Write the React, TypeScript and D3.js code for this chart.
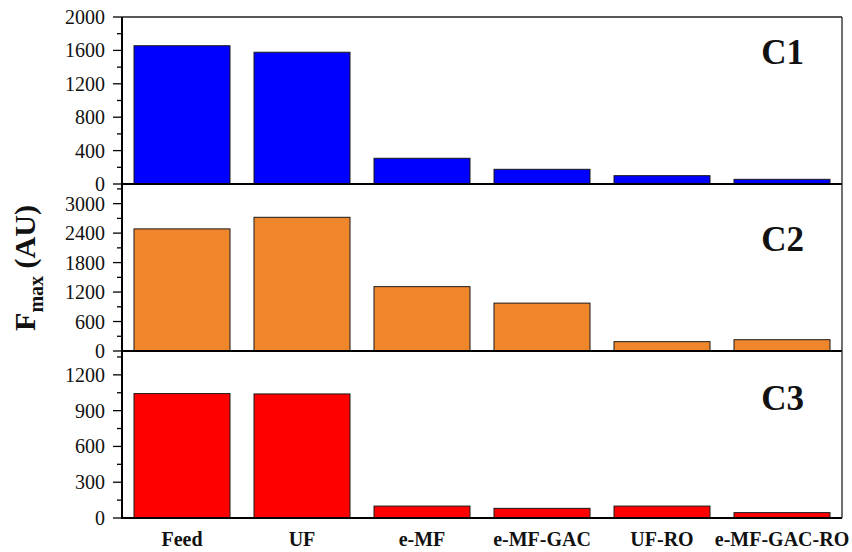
import React from "react";
import * as d3 from "d3";

// Treatment stages along the x axis
const categories = ["Feed", "UF", "e-MF", "e-MF-GAC", "UF-RO", "e-MF-GAC-RO"];

// Maximum fluorescence intensity (AU) of each PARAFAC component
const c1Values = [1656, 1578, 308, 176, 100, 56];
const c2Values = [2486, 2722, 1310, 975, 190, 230];
const c3Values = [1043, 1040, 100, 81, 100, 45];

// Axis ranges and tick labels per component panel
const c1Domain = [0, 2000];
const c2Domain = [0, 3400];
const c3Domain = [0, 1400];
const c1Ticks = [0, 400, 800, 1200, 1600, 2000];
const c2Ticks = [0, 600, 1200, 1800, 2400, 3000];
const c3Ticks = [0, 300, 600, 900, 1200];

const panelNames = ["C1", "C2", "C3"];

const WIDTH = 852;
const HEIGHT = 552;
const LEFT = 122;
const RIGHT = 842;
const TOP = 17;
const PANEL_H = 167;

const FONT = "Liberation Serif, Times New Roman, DejaVu Serif, serif";

type Panel = {
  name: string;
  values: number[];
  domain: number[];
  ticks: number[];
  color: string;
  labelBaseline: number;
};

const panels: Panel[] = [
  { name: panelNames[0], values: c1Values, domain: c1Domain, ticks: c1Ticks, color: "#0000FF", labelBaseline: 47 },
  { name: panelNames[1], values: c2Values, domain: c2Domain, ticks: c2Ticks, color: "#F0862B", labelBaseline: 67 },
  { name: panelNames[2], values: c3Values, domain: c3Domain, ticks: c3Ticks, color: "#FF0000", labelBaseline: 59 },
];

const textStyle = { fontFamily: FONT };

export default function App() {
  const x = d3.scaleBand<string>().domain(categories).range([LEFT, RIGHT]).paddingInner(0.2).paddingOuter(0.1);

  return (
    <svg
      width={WIDTH}
      height={HEIGHT}
      style={{ position: "absolute", left: 0, top: 0, background: "#fff", fontFamily: FONT }}
    >
      {panels.map((p, pi) => {
        const top = TOP + pi * PANEL_H;
        const bottom = top + PANEL_H;
        const y = d3.scaleLinear().domain(p.domain).range([bottom, top]);
        const step = p.ticks[1] - p.ticks[0];
        const minor = d3.range(step / 2, p.domain[1], step);
        return (
          <g key={p.name}>
            {categories.map((c, i) => (
              <rect
                key={c}
                x={x(c)}
                y={y(p.values[i])}
                width={x.bandwidth()}
                height={y(0) - y(p.values[i])}
                fill={p.color}
                stroke="#1a1a1a"
                strokeWidth={1}
              />
            ))}
            {minor.map((t) => (
              <line key={"m" + t} x1={LEFT - 5} x2={LEFT} y1={y(t)} y2={y(t)} stroke="#000" strokeWidth={1.3} />
            ))}
            {p.ticks.map((t) => (
              <g key={"t" + t}>
                <line x1={LEFT - 9} x2={LEFT} y1={y(t)} y2={y(t)} stroke="#000" strokeWidth={1.3} />
                <text x={LEFT - 17} y={y(t)} dy="0.35em" textAnchor="end" fontSize={20} fill="#111" style={textStyle}>
                  {t}
                </text>
              </g>
            ))}
            <line x1={LEFT} x2={RIGHT} y1={bottom} y2={bottom} stroke="#000" strokeWidth={2} />
            <text
              x={804}
              y={top + p.labelBaseline}
              textAnchor="end"
              fontSize={35}
              fontWeight="bold"
              fill="#111"
              style={textStyle}
            >
              {p.name}
            </text>
          </g>
        );
      })}
      {/* frame */}
      <line x1={LEFT} x2={RIGHT} y1={TOP} y2={TOP} stroke="#222" strokeWidth={1.3} />
      <line x1={RIGHT} x2={RIGHT} y1={TOP} y2={TOP + 3 * PANEL_H} stroke="#222" strokeWidth={1.3} />
      <line x1={LEFT} x2={LEFT} y1={TOP} y2={TOP + 3 * PANEL_H + 1} stroke="#000" strokeWidth={2} />
      {categories.map((c) => (
        <text
          key={c}
          x={(x(c) as number) + x.bandwidth() / 2}
          y={546}
          textAnchor="middle"
          fontSize={20}
          fontWeight="bold"
          fill="#111"
          style={textStyle}
        >
          {c}
        </text>
      ))}
      <text
        transform={`translate(35, 268) rotate(-90)`}
        textAnchor="middle"
        fontSize={30}
        fontWeight="bold"
        fill="#111"
        style={textStyle}
      >
        F
        <tspan fontSize={20} dy={8}>
          max
        </tspan>
        <tspan dy={-8}> (AU)</tspan>
      </text>
    </svg>
  );
}
